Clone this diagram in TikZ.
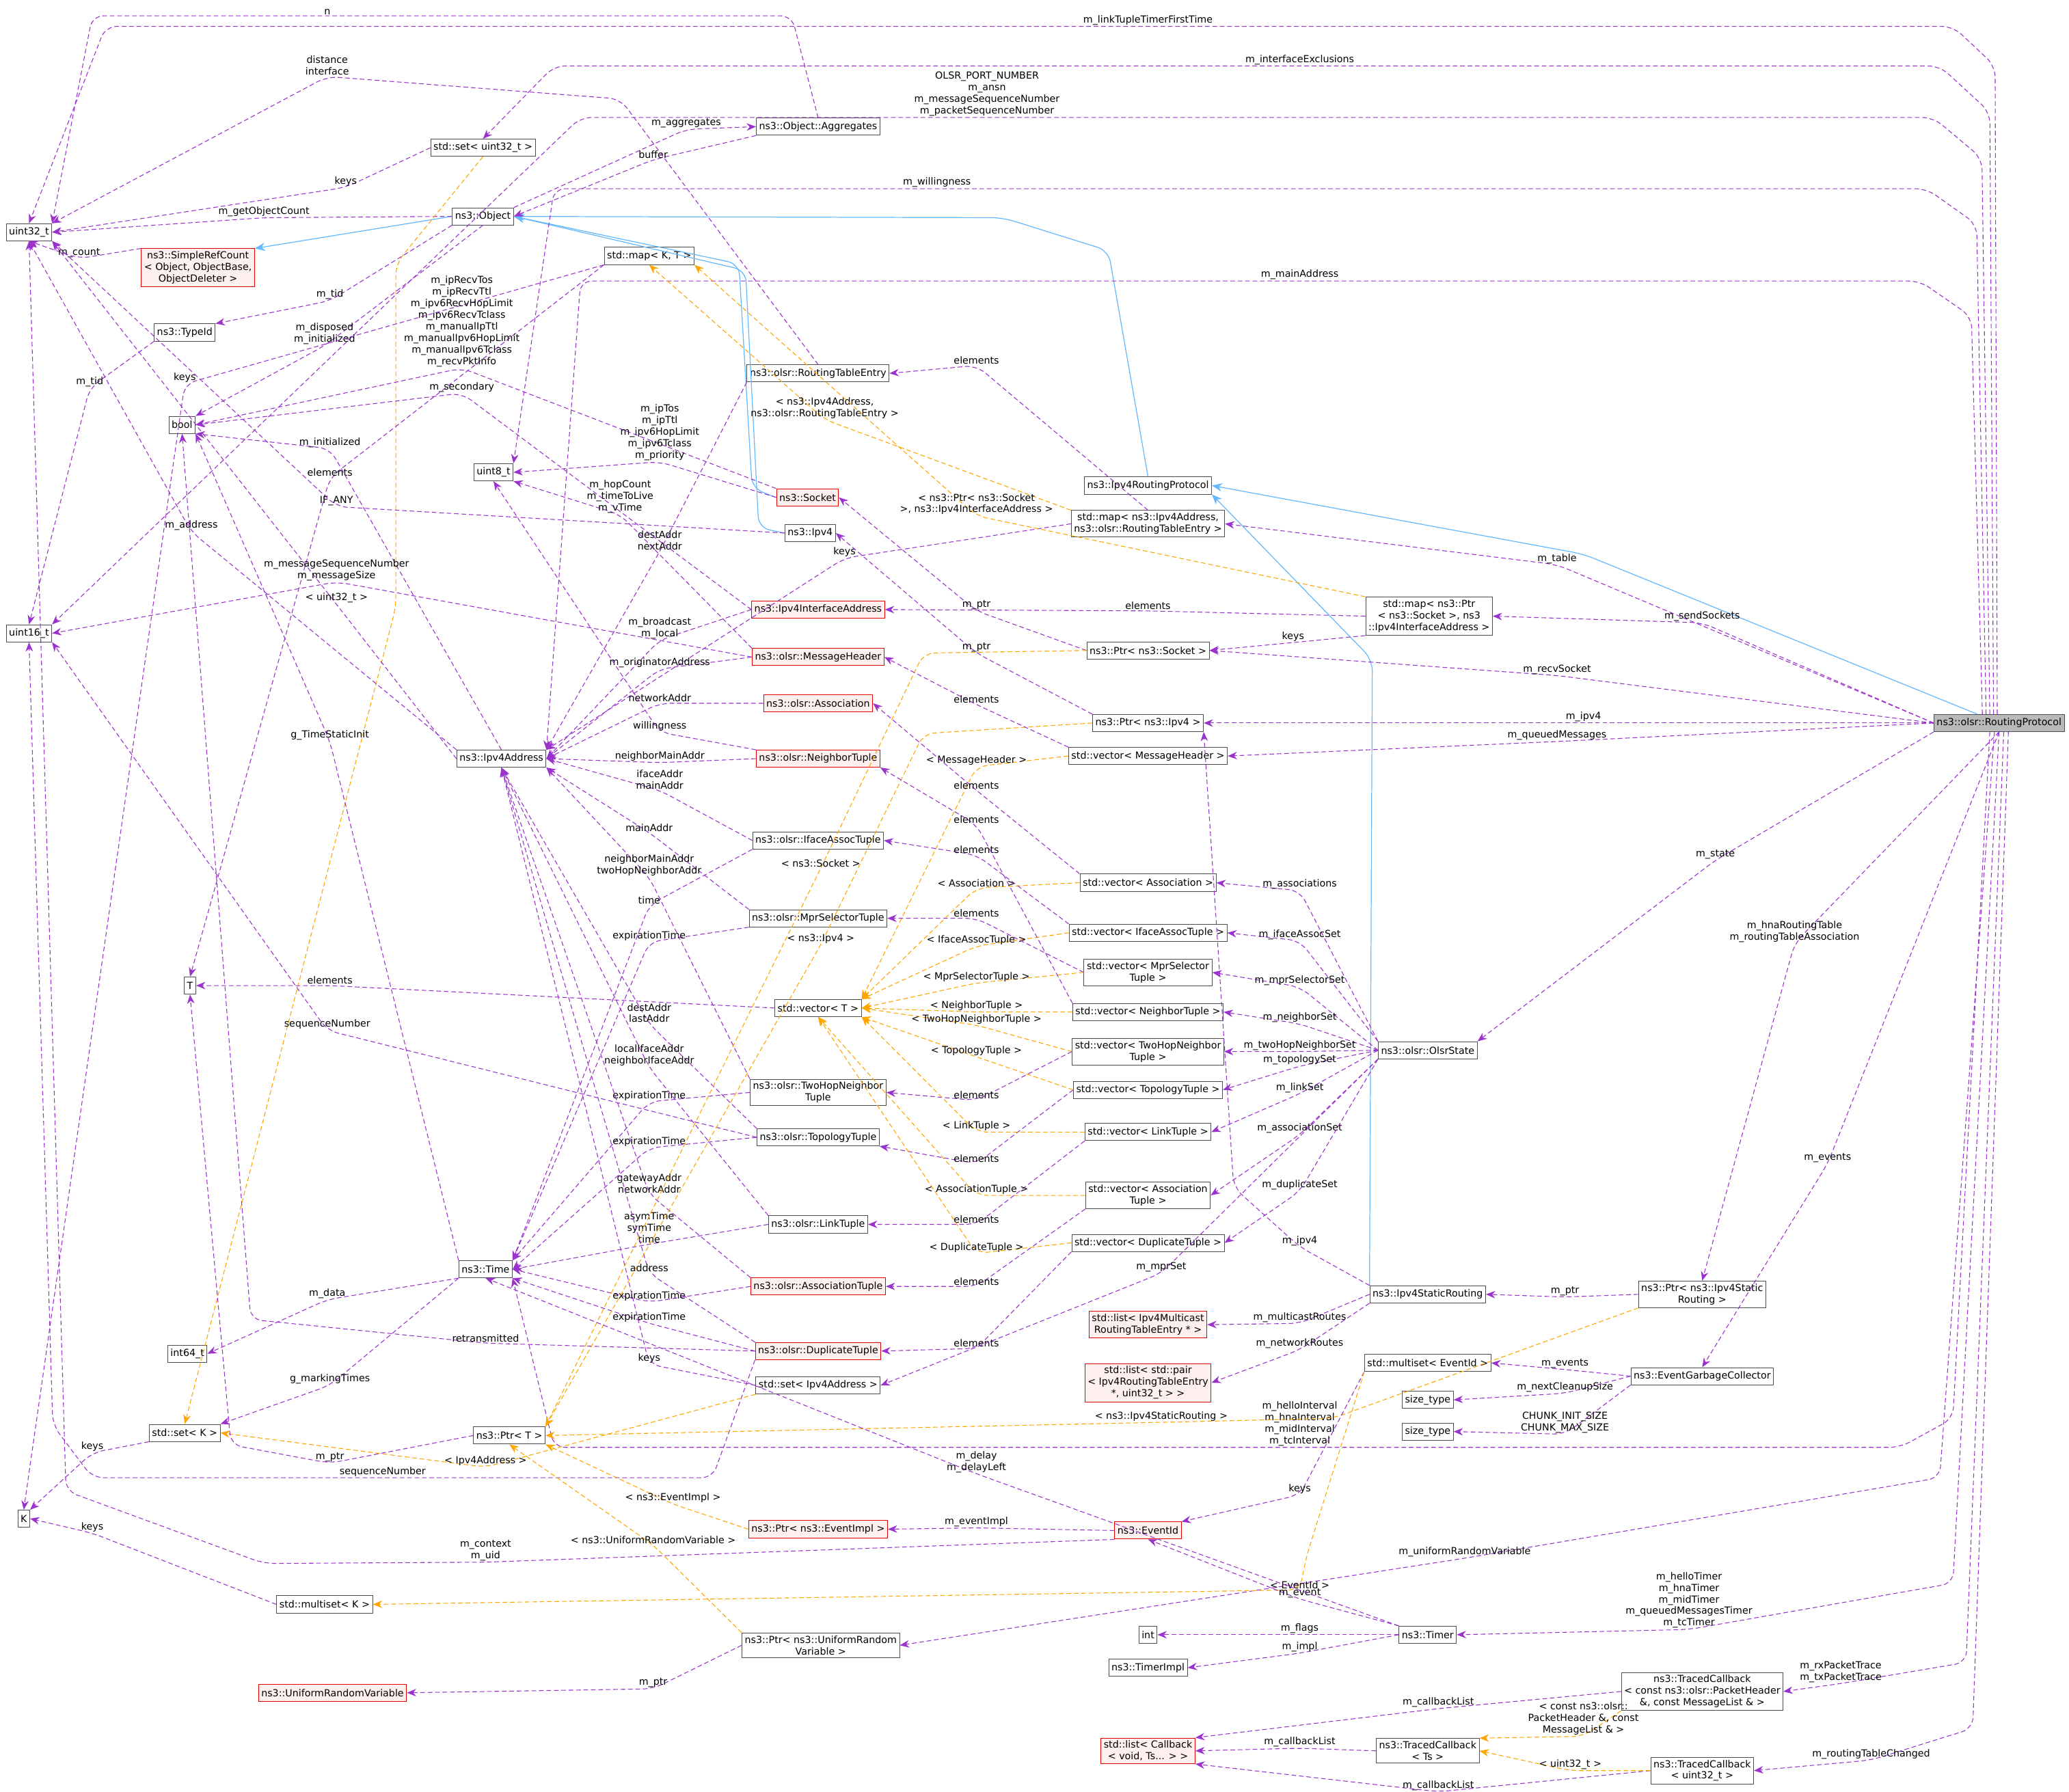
\documentclass[tikz,border=0pt]{standalone}
\usepackage{fontspec}
\setmainfont{DejaVu Sans}
\usetikzlibrary{arrows.meta}
\newcommand\dfont{\fontsize{10.5}{12.5}\selectfont}
\definecolor{usec}{HTML}{9A32CD}
\definecolor{tplc}{HTML}{FFA500}
\definecolor{inhc}{HTML}{63B8FF}
\tikzset{
 box/.style={draw=gray!60!black, fill=white, font=\dfont, inner sep=3pt, align=center, line width=0.7pt, minimum height=0.65cm},
 rbox/.style={box, draw=red!90!black, fill=red!6},
 pbox/.style={box, draw=red!90!black, fill=red!6},
 root/.style={box, fill=gray!55},
 use/.style={draw=usec, dash pattern=on 5pt off 3pt, line width=0.8pt, rounded corners=12pt, -{Stealth[length=10pt,width=8pt]}},
 tpl/.style={use, draw=tplc},
 inh/.style={draw=inhc, line width=0.9pt, rounded corners=12pt, -{Stealth[length=11pt,width=9pt]}},
 lbl/.style={font=\dfont, text=black, inner sep=1pt, align=center}
}
\begin{document}
\begin{tikzpicture}[x=0.05cm,y=-0.05cm]
\useasboundingbox (0,0) rectangle (1568,1358);
% nodes
\node[box] (u32) at (22,176) {uint32\_t};
\node[box] (u16) at (22,480) {uint16\_t};
\node[box] (bool) at (138,322) {bool};
\node[box] (u8) at (374,358) {uint8\_t};
\node[box] (T) at (144,747) {T};
\node[box] (i64) at (142,1026) {int64\_t};
\node[box] (K) at (18,1151) {K};
\node[box] (setK) at (140,1086) {std::set< K >};
\node[box] (msetK) at (246,1216) {std::multiset< K >};
\node[rbox] (urv) at (252,1283) {ns3::UniformRandomVariable};
\node[box] (ptrT) at (386,1088) {ns3::Ptr< T >};
\node[box] (time) at (368,962) {ns3::Time};
\node[box] (ip) at (380,575) {ns3::Ipv4Address};
\node[pbox] (src) at (150,203) {ns3::SimpleRefCount\\< Object, ObjectBase,\\ ObjectDeleter >};
\node[box] (tid) at (140,252) {ns3::TypeId};
\node[box] (obj) at (366,164) {ns3::Object};
\node[box] (setu) at (366,112) {std::set< uint32\_t >};
\node[box] (agg) at (620,96) {ns3::Object::Aggregates};
\node[box] (mapKT) at (492,194) {std::map< K, T >};
\node[box] (rte) at (620,283) {ns3::olsr::RoutingTableEntry};
\node[rbox] (sock) at (612,377) {ns3::Socket};
\node[box] (ipv4) at (614,404) {ns3::Ipv4};
\node[rbox] (iface) at (620,462) {ns3::Ipv4InterfaceAddress};
\node[rbox] (mh) at (620,498) {ns3::olsr::MessageHeader};
\node[rbox] (assoc) at (620,533) {ns3::olsr::Association};
\node[rbox] (nt) at (620,575) {ns3::olsr::NeighborTuple};
\node[box] (iat) at (620,637) {ns3::olsr::IfaceAssocTuple};
\node[box] (mst) at (620,696) {ns3::olsr::MprSelectorTuple};
\node[box] (vecT) at (620,764) {std::vector< T >};
\node[box] (thnt) at (620,828) {ns3::olsr::TwoHopNeighbor\\Tuple};
\node[box] (tt) at (620,862) {ns3::olsr::TopologyTuple};
\node[box] (lt) at (620,928) {ns3::olsr::LinkTuple};
\node[rbox] (atup) at (620,975) {ns3::olsr::AssociationTuple};
\node[rbox] (dt) at (620,1024) {ns3::olsr::DuplicateTuple};
\node[box] (setip) at (620,1050) {std::set< Ipv4Address >};
\node[rbox] (pei) at (620,1159) {ns3::Ptr< ns3::EventImpl >};
\node[box] (purv) at (622,1247) {ns3::Ptr< ns3::UniformRandom\\Variable >};
\node[box] (irp) at (870,368) {ns3::Ipv4RoutingProtocol};
\node[box] (map1) at (870,397) {std::map< ns3::Ipv4Address,\\ ns3::olsr::RoutingTableEntry >};
\node[box] (map2) at (1083,467) {std::map< ns3::Ptr\\< ns3::Socket >, ns3\\::Ipv4InterfaceAddress >};
\node[box] (psock) at (870,493) {ns3::Ptr< ns3::Socket >};
\node[box] (pipv4) at (870,548) {ns3::Ptr< ns3::Ipv4 >};
\node[box] (vmh) at (870,573) {std::vector< MessageHeader >};
\node[box] (vas) at (870,669) {std::vector< Association >};
\node[box] (viat) at (870,707) {std::vector< IfaceAssocTuple >};
\node[box] (vmst) at (870,737) {std::vector< MprSelector\\Tuple >};
\node[box] (vnt) at (870,767) {std::vector< NeighborTuple >};
\node[box] (vthnt) at (870,797) {std::vector< TwoHopNeighbor\\Tuple >};
\node[box] (vtt) at (870,826) {std::vector< TopologyTuple >};
\node[box] (vlt) at (870,858) {std::vector< LinkTuple >};
\node[box] (vat) at (870,906) {std::vector< Association\\Tuple >};
\node[box] (vdt) at (870,942) {std::vector< DuplicateTuple >};
\node[box] (olsr) at (1082,796) {ns3::olsr::OlsrState};
\node[box] (isr) at (1082,981) {ns3::Ipv4StaticRouting};
\node[pbox] (lmc) at (870,1004) {std::list< Ipv4Multicast\\RoutingTableEntry * >};
\node[pbox] (lpair) at (870,1048) {std::list< std::pair\\< Ipv4RoutingTableEntry\\ *, uint32\_t > >};
\node[box] (mseid) at (1082,1033) {std::multiset< EventId >};
\node[box] (st1) at (1082,1061) {size\_type};
\node[box] (st2) at (1082,1085) {size\_type};
\node[rbox] (eid) at (870,1160) {ns3::EventId};
\node[box] (pisr) at (1290,981) {ns3::Ptr< ns3::Ipv4Static\\Routing >};
\node[box] (egc) at (1290,1043) {ns3::EventGarbageCollector};
\node[box] (intn) at (870,1239) {int};
\node[box] (timpl) at (870,1264) {ns3::TimerImpl};
\node[box] (timer) at (1082,1239) {ns3::Timer};
\node[box] (tc1) at (1290,1282) {ns3::TracedCallback\\< const ns3::olsr::PacketHeader\\\&, const MessageList \& >};
\node[box] (tcts) at (1082,1327) {ns3::TracedCallback\\< Ts >};
\node[box] (tc3) at (1290,1342) {ns3::TracedCallback\\< uint32\_t >};
\node[rbox] (lcb) at (870,1327) {std::list< Callback\\< void, Ts... > >};
\node[root] (R) at (1515,548) {ns3::olsr::RoutingProtocol};

% inheritance
\draw[inh] (R) -- (1200,420) -- (irp.east);
\draw[inh] (irp.north) -- (840,190) -- (760,165) -- (obj.east);
\draw[inh] (sock.west) -- (570,370) -- (560,200) -- (obj.east);
\draw[inh] (ipv4.west) -- (575,400) -- (565,205) -- (obj.east);
\draw[inh] (isr.north west) -- (1040,500) -- (irp.south east);
\draw[inh] (obj.west) -- (src.north east);

% RoutingProtocol members
\draw[use] ([xshift=-2pt]R.north) -- (1512,50) -- (1480,20) -- (870,20) node[lbl,above]{m\_linkTupleTimerFirstTime} -- (80,20) -- (u32.north);
\draw[use] ([xshift=-6pt]R.north) -- (1508,85) -- (1470,50) -- (985,50) node[lbl,above]{m\_interfaceExclusions} -- (420,50) -- (setu.north);
\draw[use] ([xshift=-10pt]R.north) -- (1502,120) -- (1465,89) -- (748,89) node[lbl,above]{OLSR\_PORT\_NUMBER\\m\_ansn\\m\_messageSequenceNumber\\m\_packetSequenceNumber} -- (440,89) -- (u16.north east);
\draw[use] ([xshift=-14pt]R.north) -- (1498,170) -- (1460,143) -- (710,143) node[lbl,above]{m\_willingness} -- (420,143) -- (u8.north east);
\draw[use] ([xshift=-18pt]R.north) -- (1494,240) -- (1455,213) -- (985,213) node[lbl,above]{m\_mainAddress} -- (440,213) -- (ip.north east);
\draw[use] (R.west) -- (1180,428) node[lbl,above]{m\_table} -- (map1.east);
\draw[use] (R.west) -- (1290,472) node[lbl,above]{m\_sendSockets} -- (map2.east);
\draw[use] (R.west) -- (1180,512) node[lbl,above]{m\_recvSocket} -- (psock.east);
\draw[use] (R.west) -- (1200,548) node[lbl,above]{m\_ipv4} -- (pipv4.east);
\draw[use] (R.west) -- (1180,562) node[lbl,above]{m\_queuedMessages} -- (vmh.east);
\draw[use] (R.south west) -- (1300,652) node[lbl,above]{m\_state} -- (olsr.north east);
\draw[use] (R.south) -- (1360,715) node[lbl,above]{m\_hnaRoutingTable\\m\_routingTableAssociation} -- (pisr.north);
\draw[use] (R.south) -- (1385,882) node[lbl,above]{m\_events} -- (egc.north);
\draw[use] ([xshift=-10pt]R.south) -- (1480,1075) -- (1440,1097) -- (985,1097) node[lbl,above]{m\_helloInterval\\m\_hnaInterval\\m\_midInterval\\m\_tcInterval} -- (420,1097) -- (time.south east);
\draw[use] ([xshift=-5pt]R.south) -- (1470,1120) -- (1110,1181) node[lbl,above]{m\_uniformRandomVariable} -- (purv.east);
\draw[use] (R.south) -- (1480,1200) -- (1280,1235) node[lbl,above]{m\_helloTimer\\m\_hnaTimer\\m\_midTimer\\m\_queuedMessagesTimer\\m\_tcTimer} -- (timer.east);
\draw[use] ([xshift=5pt]R.south) -- (1490,1260) -- (1395,1276) node[lbl,above]{m\_rxPacketTrace\\m\_txPacketTrace} -- (tc1.east);
\draw[use] ([xshift=10pt]R.south) -- (1495,1310) -- (1418,1334) node[lbl,above]{m\_routingTableChanged} -- (tc3.east);

% Object cluster
\draw[use] (obj.west) -- (200,165) node[lbl,above]{m\_getObjectCount} -- (u32.east);
\draw[use] (obj.north east) -- (520,98) node[lbl,above]{m\_aggregates} -- (agg.west);
\draw[use] (agg.south west) -- (495,121) node[lbl,above]{buffer} -- (obj.east);
\draw[use] (agg.north) -- (600,12) -- (248,12) node[lbl,above]{n} -- (70,12) -- (u32.north east);
\draw[use] (rte.north) -- (470,75) -- (300,62) -- (248,58) node[lbl,above]{distance\\interface} -- (u32.north east);
\draw[use] (setu.west) -- (262,142) node[lbl,above]{keys} -- (u32.east);
\draw[use] (obj.south west) -- (250,228) node[lbl,above]{m\_tid} -- (tid.north east);
\draw[use] (obj.south) -- (246,262) node[lbl,above]{m\_disposed\\m\_initialized} -- (bool.north east);
\draw[use] (src.north west) -- (60,196) node[lbl,above]{m\_count} -- (u32.south);
\draw[use] (tid.south west) -- (68,294) node[lbl,above]{m\_tid} -- (u16.north);
\draw[tpl] (setu.south) -- (300,200) -- (300,460) -- (setK.north);
\draw[use] (mapKT.south west) -- (140,291) node[lbl,above]{keys} -- (K.north);
\draw[use] (mapKT.south west) -- (250,362) node[lbl,above]{elements} -- (T.north);
\draw[use] (ip.north) -- (250,340) node[lbl,above]{m\_initialized} -- (bool.south east);
\draw[use] (ip.north west) -- (145,403) node[lbl,above]{m\_address} -- (u32.south);
\draw[use] (ip.west) -- (255,458) node[lbl,above]{< uint32\_t >} -- (u32.south east);
\draw[use] (ipv4.west) -- (255,384) node[lbl,above]{IF\_ANY} -- (u32.south east);
\draw[use] (rte.south west) -- (500,418) node[lbl,above]{destAddr\\nextAddr} -- (ip.north east);
\draw[use] (map1.north) -- (740,277) node[lbl,above]{elements} -- (rte.east);
\draw[use] (map1.west) -- (640,423) node[lbl,above]{keys} -- (ip.north east);
\draw[tpl] (map1.north west) -- (625,318) node[lbl,above]{< ns3::Ipv4Address,\\ns3::olsr::RoutingTableEntry >} -- (mapKT.south);
\draw[use] (sock.north west) -- (350,279) node[lbl,above]{m\_ipRecvTos\\m\_ipRecvTtl\\m\_ipv6RecvHopLimit\\m\_ipv6RecvTclass\\m\_manualIpTtl\\m\_manualIpv6HopLimit\\m\_manualIpv6Tclass\\m\_recvPktInfo} -- (bool.east);
\draw[use] (sock.west) -- (500,350) node[lbl,above]{m\_ipTos\\m\_ipTtl\\m\_ipv6HopLimit\\m\_ipv6Tclass\\m\_priority} -- (u8.east);
\draw[use] (iface.west) -- (350,298) node[lbl,above]{m\_secondary} -- (bool.east);
\draw[use] (iface.west) -- (500,485) node[lbl,above]{m\_broadcast\\m\_local} -- (ip.east);
\draw[use] (mh.north west) -- (470,390) node[lbl,above]{m\_hopCount\\m\_timeToLive\\m\_vTime} -- (u8.south east);
\draw[use] (mh.west) -- (255,441) node[lbl,above]{m\_messageSequenceNumber\\m\_messageSize} -- (u16.east);
\draw[use] (mh.west) -- (500,507) node[lbl,above]{m\_originatorAddress} -- (ip.east);
\draw[use] (assoc.west) -- (500,533) node[lbl,above]{networkAddr} -- (ip.east);
\draw[use] (nt.west) -- (500,578) node[lbl,above]{neighborMainAddr} -- (ip.east);
\draw[use] (nt.north west) -- (500,555) node[lbl,above]{willingness} -- (u8.south);
\draw[use] (iat.west) -- (500,599) node[lbl,above]{ifaceAddr\\mainAddr} -- (ip.east);
\draw[use] (iat.south west) -- (492,686) node[lbl,above]{time} -- (time.north east);
\draw[use] (mst.north west) -- (492,631) node[lbl,above]{mainAddr} -- (ip.south east);
\draw[use] (mst.south west) -- (492,714) node[lbl,above]{expirationTime} -- (time.north east);
\draw[use] (thnt.north west) -- (492,665) node[lbl,above]{neighborMainAddr\\twoHopNeighborAddr} -- (ip.south east);
\draw[use] (thnt.west) -- (492,835) node[lbl,above]{expirationTime} -- (time.north east);
\draw[use] (tt.north west) -- (492,776) node[lbl,above]{destAddr\\lastAddr} -- (ip.south);
\draw[use] (tt.west) -- (492,870) node[lbl,above]{expirationTime} -- (time.east);
\draw[use] (tt.west) -- (248,781) node[lbl,above]{sequenceNumber} -- (u16.south east);
\draw[use] (lt.north west) -- (492,809) node[lbl,above]{localIfaceAddr\\neighborIfaceAddr} -- (ip.south);
\draw[use] (lt.west) -- (492,943) node[lbl,above]{asymTime\\symTime\\time} -- (time.east);
\draw[use] (atup.north west) -- (492,905) node[lbl,above]{gatewayAddr\\networkAddr} -- (ip.south);
\draw[use] (atup.west) -- (492,987) node[lbl,above]{expirationTime} -- (time.east);
\draw[use] (dt.north west) -- (492,965) node[lbl,above]{address} -- (ip.south);
\draw[use] (dt.west) -- (492,1003) node[lbl,above]{expirationTime} -- (time.south east);
\draw[use] (dt.west) -- (368,1018) node[lbl,above]{retransmitted} -- (190,1000) -- (bool.south);
\draw[use] (dt.south west) -- (540,1120) -- (290,1120) node[lbl,above]{sequenceNumber} -- (70,1120) -- (40,1080) -- (u16.south);
\draw[use] (setip.west) -- (492,1034) node[lbl,above]{keys} -- (ip.south);
\draw[tpl] (setip.south west) -- (368,1112) node[lbl,above]{< Ipv4Address >} -- (setK.east);
\draw[use] (time.south west) -- (248,985) node[lbl,above]{m\_data} -- (i64.east);
\draw[use] (time.south west) -- (250,1050) node[lbl,above]{g\_markingTimes} -- (setK.north east);
\draw[use] (time.north west) -- (250,562) node[lbl,above]{g\_TimeStaticInit} -- (bool.south east);
\draw[use] (ptrT.west) -- (250,1109) node[lbl,above]{m\_ptr} -- (175,1095) -- (T.south);
\draw[use] (setK.south west) -- (70,1101) node[lbl,above]{keys} -- (K.north east);
\draw[use] (msetK.west) -- (70,1162) node[lbl,above]{keys} -- (K.east);
\draw[use] (vecT.west) -- (250,747) node[lbl,above]{elements} -- (T.east);
\draw[use] (psock.west) -- (740,463) node[lbl,above]{m\_ptr} -- (sock.east);
\draw[tpl] (psock.west) -- (700,495) -- (622,658) node[lbl,above]{< ns3::Socket >} -- (ptrT.north east);
\draw[use] (pipv4.north west) -- (740,495) node[lbl,above]{m\_ptr} -- (ipv4.east);
\draw[tpl] (pipv4.west) -- (700,556) -- (622,716) node[lbl,above]{< ns3::Ipv4 >} -- (ptrT.north east);
\draw[use] (map2.west) -- (870,463) node[lbl,above]{elements} -- (iface.east);
\draw[use] (map2.south west) -- (980,487) node[lbl,above]{keys} -- (psock.east);
\draw[tpl] (map2.north west) -- (740,391) node[lbl,above]{< ns3::Ptr< ns3::Socket\\>, ns3::Ipv4InterfaceAddress >} -- (mapKT.south east);
% vectors
\draw[use] (vmh.north west) -- (740,534) node[lbl,above]{elements} -- (mh.east);
\draw[tpl] (vmh.west) -- (740,581) node[lbl,above]{< MessageHeader >} -- (vecT.north east);
\draw[use] (vas.north west) -- (740,599) node[lbl,above]{elements} -- (assoc.east);
\draw[tpl] (vas.west) -- (740,673) node[lbl,above]{< Association >} -- (vecT.north east);
\draw[use] (viat.north west) -- (740,648) node[lbl,above]{elements} -- (iat.east);
\draw[tpl] (viat.west) -- (740,717) node[lbl,above]{< IfaceAssocTuple >} -- (vecT.north east);
\draw[use] (vmst.west) -- (740,696) node[lbl,above]{elements} -- (mst.east);
\draw[tpl] (vmst.west) -- (740,745) node[lbl,above]{< MprSelectorTuple >} -- (vecT.east);
\draw[use] (vnt.north west) -- (740,625) node[lbl,above]{elements} -- (nt.south east);
\draw[tpl] (vnt.west) -- (740,767) node[lbl,above]{< NeighborTuple >} -- (vecT.east);
\draw[use] (vthnt.west) -- (740,834) node[lbl,above]{elements} -- (thnt.east);
\draw[tpl] (vthnt.west) -- (740,777) node[lbl,above]{< TwoHopNeighborTuple >} -- (vecT.east);
\draw[use] (vtt.west) -- (740,882) node[lbl,above]{elements} -- (tt.south east);
\draw[tpl] (vtt.west) -- (740,801) node[lbl,above]{< TopologyTuple >} -- (vecT.south east);
\draw[use] (vlt.south west) -- (740,928) node[lbl,above]{elements} -- (lt.east);
\draw[tpl] (vlt.west) -- (740,858) node[lbl,above]{< LinkTuple >} -- (vecT.south east);
\draw[use] (vat.south west) -- (740,975) node[lbl,above]{elements} -- (atup.east);
\draw[tpl] (vat.west) -- (740,906) node[lbl,above]{< AssociationTuple >} -- (vecT.south);
\draw[use] (vdt.south west) -- (740,1022) node[lbl,above]{elements} -- (dt.east);
\draw[tpl] (vdt.west) -- (740,950) node[lbl,above]{< DuplicateTuple >} -- (vecT.south);
% OlsrState
\draw[use] (olsr.north west) -- (985,675) node[lbl,above]{m\_associations} -- (vas.east);
\draw[use] (olsr.north west) -- (985,713) node[lbl,above]{m\_ifaceAssocSet} -- (viat.east);
\draw[use] (olsr.west) -- (985,748) node[lbl,above]{m\_mprSelectorSet} -- (vmst.east);
\draw[use] (olsr.west) -- (985,776) node[lbl,above]{m\_neighborSet} -- (vnt.east);
\draw[use] (olsr.west) -- (985,797) node[lbl,above]{m\_twoHopNeighborSet} -- (vthnt.east);
\draw[use] (olsr.west) -- (985,808) node[lbl,above]{m\_topologySet} -- (vtt.east);
\draw[use] (olsr.west) -- (985,829) node[lbl,above]{m\_linkSet} -- (vlt.east);
\draw[use] (olsr.south west) -- (985,860) node[lbl,above]{m\_associationSet} -- (vat.east);
\draw[use] (olsr.south west) -- (985,903) node[lbl,above]{m\_duplicateSet} -- (vdt.east);
\draw[use] (olsr.south west) -- (880,965) node[lbl,above]{m\_mprSet} -- (setip.east);
% static routing
\draw[use] (isr.north west) -- (985,945) node[lbl,above]{m\_ipv4} -- (935,900) -- (pipv4.south east);
\draw[use] (isr.west) -- (985,1003) node[lbl,above]{m\_multicastRoutes} -- (lmc.east);
\draw[use] (isr.south west) -- (985,1023) node[lbl,above]{m\_networkRoutes} -- (lpair.east);
\draw[use] (pisr.west) -- (1186,983) node[lbl,above]{m\_ptr} -- (isr.east);
\draw[tpl] (pisr.south west) -- (1010,1075) -- (880,1078) node[lbl,above]{< ns3::Ipv4StaticRouting >} -- (ptrT.east);
\draw[use] (egc.west) -- (1186,1038) node[lbl,above]{m\_events} -- (mseid.east);
\draw[use] (egc.west) -- (1186,1056) node[lbl,above]{m\_nextCleanupSize} -- (st1.east);
\draw[use] (egc.south west) -- (1186,1087) node[lbl,above]{CHUNK\_INIT\_SIZE\\CHUNK\_MAX\_SIZE} -- (st2.east);
\draw[use] (mseid.south west) -- (985,1133) node[lbl,above]{keys} -- (eid.north east);
\draw[tpl] (mseid.south west) -- (990,1180) -- (985,1205) node[lbl,above]{< EventId >} -- (msetK.east);
\draw[use] (eid.west) -- (740,1158) node[lbl,above]{m\_eventImpl} -- (pei.east);
\draw[use] (eid.south west) -- (368,1184) node[lbl,above]{m\_context\\m\_uid} -- (200,1185) -- (50,1130) -- (u32.south);
\draw[tpl] (pei.west) -- (510,1140) node[lbl,above]{< ns3::EventImpl >} -- (ptrT.south east);
\draw[use] (purv.west) -- (495,1280) node[lbl,above]{m\_ptr} -- (urv.east);
\draw[tpl] (purv.north west) -- (495,1171) node[lbl,above]{< ns3::UniformRandomVariable >} -- (ptrT.south);
% timer
\draw[use] (timer.north west) -- (985,1212) node[lbl,above]{m\_event} -- (eid.south);
\draw[use] (timer.west) -- (985,1239) node[lbl,above]{m\_flags} -- (intn.east);
\draw[use] (timer.west) -- (985,1253) node[lbl,above]{m\_impl} -- (timpl.east);
\draw[use] (timer.north west) -- (740,1117) node[lbl,above]{m\_delay\\m\_delayLeft} -- (time.south);
% traced callbacks
\draw[use] (tc1.west) -- (1090,1295) node[lbl,above]{m\_callbackList} -- (lcb.north east);
\draw[tpl] (tc1.south west) -- (1200,1316) node[lbl,above]{< const ns3::olsr::\\PacketHeader \&, const\\ MessageList \& >} -- (tcts.north east);
\draw[use] (tcts.west) -- (985,1325) node[lbl,above]{m\_callbackList} -- (lcb.east);
\draw[use] (tc3.west) -- (1090,1358) node[lbl,above]{m\_callbackList} -- (lcb.south east);
\draw[tpl] (tc3.west) -- (1190,1342) node[lbl,above]{< uint32\_t >} -- (tcts.east);
\end{tikzpicture}
\end{document}
